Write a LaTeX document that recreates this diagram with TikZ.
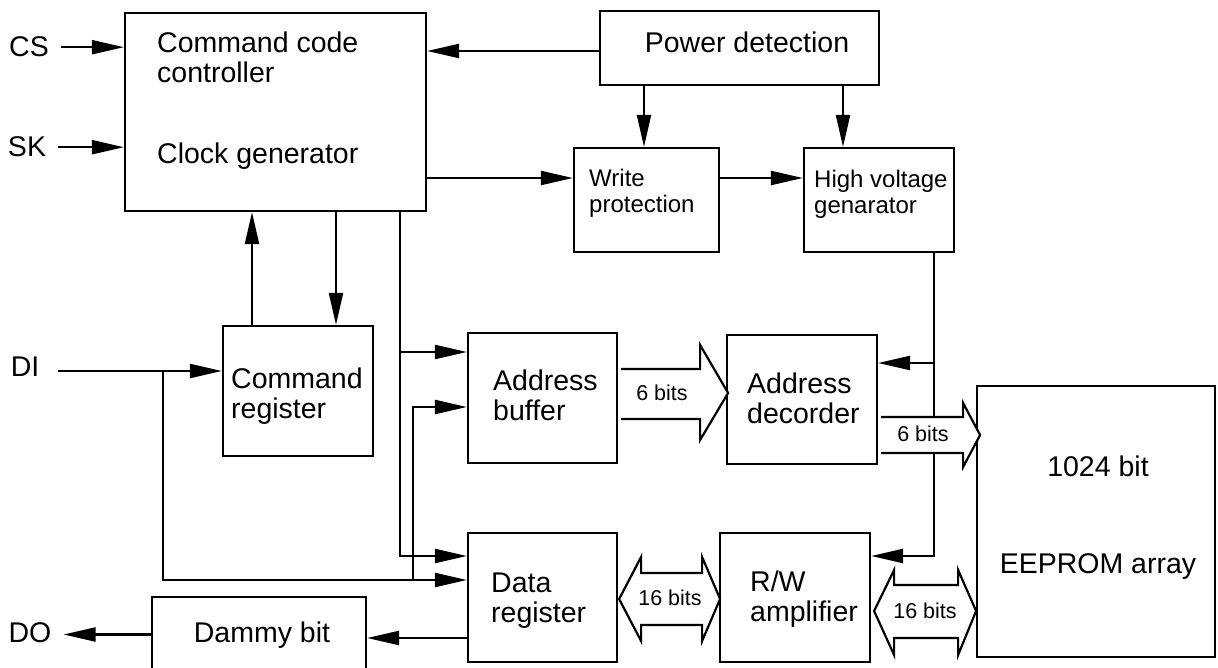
\documentclass[tikz,border=0pt]{standalone}
\usepackage{fontspec}
\setmainfont{Liberation Sans}
\usetikzlibrary{arrows.meta}
\usetikzlibrary{calc}

\begin{document}
\begin{tikzpicture}[x=1pt,y=-1pt,
    blk/.style={draw, line width=\Thickness, inner sep=0pt},
    txtL/.style={font=\fontsize{28.5}{30}\selectfont, inner sep=0pt},
    txtM/.style={font=\fontsize{24}{26}\selectfont, inner sep=0pt},
    txtS/.style={font=\fontsize{21.5}{23}\selectfont, inner sep=0pt},
    arr/.style={line width=\Thickness, -{Triangle[length=32pt,width=14pt]}},
    bus/.style={line width=\Thickness, fill=white, line join=miter},
]
    \def\Thickness{2.2pt}
    \useasboundingbox (0,0) rectangle (1218,668);

    % 方框: 名称/中心x/中心y/宽/高
    \foreach \nm/\x/\y/\w/\h in {
        ctrl/275.5/112/301/198, pwr/739.5/48/279/74,
        wp/646.5/200/145/104, hv/879/200/150/104,
        cmd/298/391/150/130, ab/542.5/398/149/130,
        ad/802/399.5/150/129, dr/542.5/597.5/149/129,
        rw/795/597.5/150/129, mem/1096/521.5/238/271,
        dmy/259/634.5/214/75}{
            \node[blk, minimum width=\w pt, minimum height=\h pt] (\nm) at (\x,\y) {};
        }

    % 多行文字的 base 是最后一行
    \node[txtL, anchor=base west, align=left] (ctrlTxt) at (157,83) {Command code\\controller};
    \node[txtL, anchor=base west] (clkTxt) at (157,164) {Clock generator};
    \node[txtL, anchor=base] (pwrTxt) at (747,53) {Power detection};
    \node[txtM, anchor=base west, align=left] (wpTxt) at (589,213) {Write\\protection};
    \node[txtM, anchor=base west, align=left] (hvTxt) at (814,214) {High voltage\\genarator};
    \node[txtL, anchor=base west, align=left] (cmdTxt) at (231,418) {Command\\register};
    \node[txtL, anchor=base west, align=left] (abTxt) at (493,420) {Address\\buffer};
    \node[txtL, anchor=base west, align=left] (adTxt) at (747,423) {Address\\decorder};
    \node[txtL, anchor=base west, align=left] (drTxt) at (491,622) {Data\\register};
    \node[txtL, anchor=base west, align=left] (rwTxt) at (750,621) {R/W\\amplifier};
    \node[txtL, anchor=base] (memTxtA) at (1098,476) {1024 bit};
    \node[txtL, anchor=base] (memTxtB) at (1098,573) {EEPROM array};
    \node[txtL, anchor=base] (dmyTxt) at (262,642) {Dammy bit};

    % 输入输出信号
    \node[txtL, anchor=base] (cs) at (29,57) {CS};
    \node[txtL, anchor=base] (sk) at (27,157) {SK};
    \node[txtL, anchor=base] (di) at (25,376) {DI};
    \node[txtL, anchor=base] (do) at (30,642) {DO};
    \coordinate (diIn) at (58,371);
    \coordinate (diTap) at (163,371);
    \coordinate (diUp) at (413,580);

    \draw[arr] ([xshift=12pt]cs.east) -- (cs.east -| ctrl.west);
    \draw[arr] ([xshift=12pt]sk.east) -- (sk.east -| ctrl.west);
    \draw[arr] (diIn) -- (diIn -| cmd.west);
    \draw[arr] (diTap) |- ([yshift=17.5pt]dr.west);
    \draw[arr] (diUp) |- ([yshift=-9pt]ab.west);
    \draw[arr] ([yshift=-40.5pt]dr.west) -- ([yshift=-40.5pt]dr.west -| dmy.east);
    \draw[arr] (dmy.west) -- ([xshift=12pt]dmy.west -| do.east);

    \draw[arr] ([yshift=-3pt]pwr.west) -- ([yshift=-3pt]pwr.west -| ctrl.east);
    \draw[arr] ([xshift=-2.5pt]wp.north |- pwr.south) -- ([xshift=-2.5pt]wp.north);
    \draw[arr] ([xshift=-36pt]hv.north |- pwr.south) -- ([xshift=-36pt]hv.north);
    \draw[arr] ([yshift=22pt]wp.west -| ctrl.east) -- ([yshift=22pt]wp.west);
    \draw[arr] ([yshift=22pt]wp.east) -- ([yshift=22pt]hv.west);

    \draw[arr] ([xshift=-46pt]cmd.north) -- ([xshift=-46pt]cmd.north |- ctrl.south);
    \draw[arr] ([xshift=38pt]cmd.north |- ctrl.south) -- ([xshift=38pt]cmd.north);
    \draw[arr] ([xshift=124.5pt]ctrl.south) |- ([yshift=41.5pt]dr.west);
    \draw[arr] ([xshift=124.5pt]ctrl.south) |- ([yshift=46pt]ab.west);

    \draw[arr] ([xshift=55pt]hv.south) |- ([yshift=41.5pt]rw.east);
    \draw[arr] ([xshift=55pt]hv.south) |- ([yshift=36.5pt]ad.east);

    % 粗箭头 (总线)
    \draw[bus] ([xshift=3pt,yshift=29pt]ab.east) --++(79,0) --++(0,-24) --++(28,48)
        --++(-28,47) --++(0,-21) --++(-79,0);
    \draw[bus] ([xshift=3pt,yshift=-17.5pt]ad.east) --++(82,0) --++(0,-14) --++(17,32)
        --++(-17,32) --++(0,-14) --++(-82,0);
    \draw[bus] ([xshift=1pt,yshift=-1.5pt]dr.east) --++(22,-42) --++(0,16) --++(61,0) --++(0,-16)
        --++(18,42) --++(-18,42) --++(0,-16) --++(-61,0) --++(0,16) -- cycle;
    \draw[bus] ([xshift=3pt,yshift=-13.5pt]rw.east) --++(20,-41) --++(0,15) --++(64,0) --++(0,-15)
        --++(18,41) --++(-18,44) --++(0,-17) --++(-64,0) --++(0,17) -- cycle;

    \node[txtS] (bitsA) at (662,393) {6 bits};
    \node[txtS] (bitsB) at (923,434) {6 bits};
    \node[txtS] (bitsC) at (670,598) {16 bits};
    \node[txtS] (bitsD) at (925,611) {16 bits};
\end{tikzpicture}
\end{document}
